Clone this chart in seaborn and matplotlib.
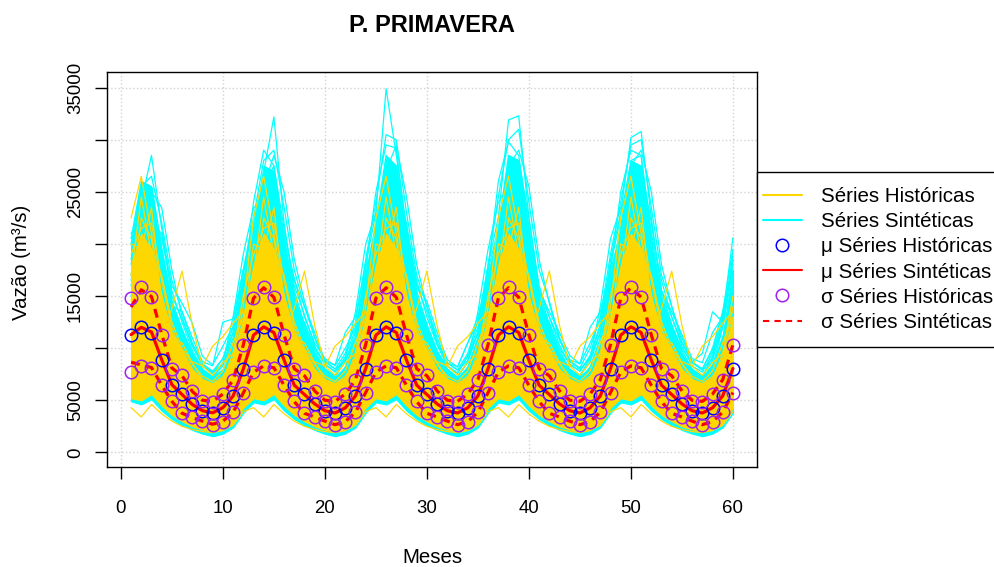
import numpy as np
import pandas as pd
import matplotlib
matplotlib.use("Agg")
import matplotlib.pyplot as plt
import seaborn as sns
from matplotlib.lines import Line2D
from matplotlib.patches import Rectangle

# ---------------- data (m3/s) ----------------
months = list(range(1, 61))

hist_mean = [11280, 12080, 11500, 8830, 6440, 5580, 4620, 3980, 3760, 4270, 5390, 8030,
             11280, 12080, 11500, 8830, 6440, 5580, 4620, 3980, 3760, 4270, 5390, 8030,
             11280, 12080, 11500, 8830, 6440, 5580, 4620, 3980, 3760, 4270, 5390, 8030,
             11280, 12080, 11500, 8830, 6440, 5580, 4620, 3980, 3760, 4270, 5390, 8030,
             11280, 12080, 11500, 8830, 6440, 5580, 4620, 3980, 3760, 4270, 5390, 8030]
hist_sd = [3580, 3750, 3370, 2400, 1550, 1820, 1240, 1000, 1120, 1320, 1560, 2300,
           3580, 3750, 3370, 2400, 1550, 1820, 1240, 1000, 1120, 1320, 1560, 2300,
           3580, 3750, 3370, 2400, 1550, 1820, 1240, 1000, 1120, 1320, 1560, 2300,
           3580, 3750, 3370, 2400, 1550, 1820, 1240, 1000, 1120, 1320, 1560, 2300,
           3580, 3750, 3370, 2400, 1550, 1820, 1240, 1000, 1120, 1320, 1560, 2300]
syn_mean = [11300, 12000, 11550, 8900, 6500, 5550, 4600, 4000, 3800, 4300, 5400, 8000,
            11250, 12050, 11500, 8850, 6450, 5550, 4650, 4000, 3780, 4280, 5420, 8050,
            11250, 12050, 11500, 8850, 6450, 5550, 4650, 4000, 3780, 4280, 5420, 8050,
            11250, 12050, 11500, 8850, 6450, 5550, 4650, 4000, 3780, 4280, 5420, 8050,
            11250, 12050, 11500, 8850, 6450, 5550, 4650, 4000, 3780, 4280, 5420, 8050]
syn_sd = [2650, 3600, 3400, 2450, 1600, 1800, 1250, 1000, 1100, 1300, 1550, 2300,
          3550, 3750, 3380, 2420, 1580, 1800, 1250, 1000, 1120, 1320, 1560, 2300,
          3550, 3750, 3380, 2420, 1580, 1800, 1250, 1000, 1120, 1320, 1560, 2300,
          3550, 3750, 3380, 2420, 1580, 1800, 1250, 1000, 1120, 1320, 1560, 2300,
          3550, 3750, 3380, 2420, 1580, 1800, 1250, 1000, 1120, 1320, 1560, 2300]

# dense envelopes of the synthetic (cyan) and historical (gold) bundles
cyan_hi = [20000, 26000, 25500, 19500, 14500, 11800, 9500, 8000, 7300, 8000, 10800, 16500,
           21500, 27500, 27000, 20500, 15000, 12000, 9500, 8000, 7300, 8200, 10800, 17000,
           22000, 28500, 27500, 21000, 15000, 12000, 9500, 8000, 7200, 8200, 11000, 17000,
           21500, 28500, 28000, 21000, 15000, 12000, 9500, 8000, 7300, 8200, 10800, 17000,
           22000, 28000, 27500, 20500, 15000, 12000, 9500, 8000, 7300, 8500, 11300, 17500]
cyan_lo = [4900, 4600, 5100, 4000, 3200, 2600, 2150, 1800, 1550, 1800, 2400, 3800,
           4800, 4600, 5100, 4000, 3200, 2600, 2150, 1800, 1550, 1800, 2400, 3800,
           4800, 4600, 5100, 4000, 3200, 2600, 2150, 1800, 1550, 1800, 2400, 3800,
           4800, 4600, 5100, 4000, 3200, 2600, 2150, 1800, 1550, 1800, 2400, 3800,
           4800, 4600, 5100, 4000, 3200, 2600, 2150, 1800, 1550, 1800, 2400, 3800]
gold_hi_year = [18000, 21000, 19500, 15000, 11500, 9800, 8000, 7000, 6600, 7200, 9200, 13000]
gold_lo_year = [5200, 5000, 5600, 4500, 3600, 3000, 2500, 2200, 2000, 2200, 2800, 4300]
gold_hi = gold_hi_year * 5
gold_lo = gold_lo_year * 5

# individual outlying synthetic series (one list per series)
syn_peak_a = [18000, 24000, 28500, 21500, 15500, 12500, 9800, 8000, 7200, 8300, 11000, 17000,
              22000, 26900, 32200, 22000, 15500, 12300, 9800, 8000, 7300, 8700, 11500, 18000,
              23000, 34900, 28500, 21500, 15500, 12300, 9800, 8000, 7200, 8700, 11500, 18000,
              22500, 31900, 32300, 22500, 15500, 12300, 9800, 8000, 7300, 8700, 11500, 18500,
              23000, 30200, 30800, 22500, 15500, 12300, 9800, 8000, 7300, 9200, 13000, 20600]
syn_peak_b = [20500, 26000, 25500, 19000, 13000, 11000, 8800, 7500, 6800, 7800, 10000, 15500,
              24000, 29000, 27500, 20000, 14000, 11500, 9200, 7600, 6900, 8200, 11000, 17500,
              25000, 29500, 29200, 21000, 14500, 11500, 9200, 7600, 6900, 8200, 11000, 17500,
              26000, 29800, 28500, 21500, 14500, 11500, 9200, 7600, 6900, 8200, 11000, 17500,
              25000, 29000, 28500, 20000, 14000, 11500, 9200, 7600, 6900, 8200, 12000, 19000]
syn_dry_a = [15000, 21000, 20000, 17000, 14000, 13500, 11000, 8700, 8300, 12500, 12800, 17500,
             19000, 24000, 23000, 19000, 16500, 14000, 11500, 8800, 8400, 11500, 13000, 18000,
             19000, 25000, 24000, 19500, 16000, 13500, 10500, 8600, 8200, 10500, 12500, 17000,
             19000, 25000, 25000, 20000, 15500, 13000, 10800, 8900, 8500, 12000, 13500, 17500,
             19500, 25000, 24500, 19500, 15500, 13000, 10500, 8700, 9500, 13500, 12500, 18500]
syn_dry_b = [16500, 22000, 22500, 18500, 12500, 10500, 9200, 8300, 7600, 9000, 11500, 16500,
             20000, 25500, 24500, 18000, 13500, 12500, 10000, 8400, 7800, 8800, 11000, 15500,
             20500, 26000, 25500, 18500, 14000, 12000, 9600, 8300, 7600, 9200, 11500, 16000,
             20000, 26500, 26000, 19000, 13500, 12500, 10000, 8500, 7800, 9200, 12000, 16500,
             21000, 26000, 25000, 18500, 14000, 12000, 10000, 8600, 8000, 9800, 13500, 17500]
syn_c1 = [20000, 25500, 26500, 22000, 16500, 13500, 10500, 8500, 7800, 9000, 12000, 17500,
          22500, 28000, 29000, 23500, 17500, 14000, 11000, 8700, 8000, 9500, 12500, 18500,
          24000, 30500, 30000, 23000, 17000, 14000, 11000, 8600, 7900, 9500, 12500, 18000,
          24500, 30000, 31000, 24000, 17500, 14500, 11000, 8800, 8100, 10000, 13000, 19000,
          24000, 29500, 30000, 23500, 17000, 14000, 11000, 8700, 8000, 10000, 13500, 19500]
syn_c2 = [17000, 23000, 23500, 20500, 16000, 14300, 12400, 9200, 8400, 10200, 12100, 17500,
          21500, 26000, 25000, 21000, 16700, 13000, 10500, 9000, 8300, 10000, 12000, 16500,
          20000, 27000, 26000, 22000, 16000, 14500, 11500, 8900, 8200, 10500, 13000, 17000,
          20500, 27500, 28000, 21500, 15600, 13500, 11500, 9300, 8500, 10500, 12800, 17500,
          21000, 27000, 27500, 22000, 15500, 13500, 11300, 9000, 8600, 11500, 13000, 18000]
syn_c3 = [21000, 22500, 20000, 16500, 13000, 11000, 8800, 7800, 7200, 8600, 13000, 19000,
          23500, 24000, 22500, 17500, 13500, 11500, 9200, 8000, 7400, 9000, 13500, 20000,
          23000, 25000, 23500, 18500, 14000, 11500, 9200, 7800, 7200, 8700, 13500, 19500,
          24000, 25500, 23000, 18000, 13500, 11000, 9100, 7900, 7400, 9000, 14000, 20500,
          23500, 25000, 23000, 17500, 13500, 11000, 9000, 7800, 7300, 8800, 12500, 18500]
syn_c4 = [16000, 22000, 25000, 23500, 17500, 13000, 10200, 8400, 7700, 8500, 10500, 15000,
          18500, 25500, 28500, 25000, 18500, 14500, 11000, 8800, 8000, 8800, 11000, 16000,
          19500, 27000, 29500, 24500, 18000, 14000, 10600, 8600, 7900, 8800, 11500, 16500,
          19000, 27500, 29000, 25500, 18500, 14300, 10800, 8700, 8000, 9000, 11500, 17000,
          19500, 27500, 29000, 25000, 18000, 14000, 10600, 8600, 7900, 9000, 12000, 17500]
syn_c6 = [18500, 23500, 22000, 21000, 15000, 12800, 10300, 8300, 7600, 8400, 11500, 16000,
          20500, 25500, 27500, 21500, 16000, 13200, 10200, 8500, 7700, 9200, 11800, 17000,
          22000, 28500, 27000, 21500, 16500, 13000, 10300, 8300, 7600, 9300, 12000, 17500,
          21500, 28500, 28000, 22500, 16000, 13000, 10300, 8400, 7800, 9300, 12300, 18000,
          22500, 28000, 28500, 21000, 16500, 13000, 10200, 8300, 7700, 9500, 12800, 18500]

# individual historical series (each historical year repeats in every 12-month block)
hist_wet = [22500, 26500, 21000, 15000, 10500, 8500, 7000, 6000, 5500, 6500, 9000, 14000] * 5
hist_wet2 = [19000, 21500, 22000, 16500, 12000, 9500, 7800, 6500, 6000, 7000, 9500, 15000] * 5
hist_spike = [11000, 14000, 13000, 11000, 13800, 17400, 12200, 8200, 10200, 11100, 12400, 13500] * 5
hist_dry = [4300, 3400, 4600, 3700, 3000, 2500, 2200, 2000, 1900, 2100, 2600, 3900] * 5
hist_g5 = [17000, 24500, 19000, 17000, 12500, 10000, 8500, 7300, 6800, 7800, 10500, 13000] * 5
hist_g6 = [20000, 19500, 23500, 14500, 11000, 10500, 8600, 7000, 6600, 7300, 8800, 12000] * 5
hist_g7 = [14500, 22500, 20500, 13500, 10000, 8600, 8700, 8300, 7400, 8600, 9500, 11500] * 5

x_ticks = [0, 10, 20, 30, 40, 50, 60]
y_ticks = [0, 5000, 10000, 15000, 20000, 25000, 30000, 35000]
y_tick_labels = ["0", "5000", "", "15000", "", "25000", "", "35000"]
legend_labels = ["Séries Históricas", "Séries Sintéticas", "μ Séries Históricas",
                 "μ Séries Sintéticas", "σ Séries Históricas", "σ Séries Sintéticas"]

# ---------------- figure ----------------
sns.set_theme(style="white")
plt.rcParams["font.family"] = ["Liberation Sans", "DejaVu Sans"]
for key in ("text.color", "axes.labelcolor", "xtick.color", "ytick.color"):
    plt.rcParams[key] = "black"

W, H = 994, 567
fig = plt.figure(figsize=(W / 100, H / 100), dpi=100)
ax = fig.add_axes([107 / W, 1 - 467 / H, 650 / W, 395 / H])

GOLD, CYAN = "#FFD700", "#00FFFF"

syn_series = {"syn_peak_a": syn_peak_a, "syn_peak_b": syn_peak_b, "syn_dry_a": syn_dry_a,
              "syn_dry_b": syn_dry_b, "syn_c1": syn_c1, "syn_c2": syn_c2, "syn_c3": syn_c3,
              "syn_c4": syn_c4, "syn_c6": syn_c6}
hist_series = {"hist_wet": hist_wet, "hist_wet2": hist_wet2, "hist_spike": hist_spike,
               "hist_dry": hist_dry, "hist_g5": hist_g5, "hist_g6": hist_g6, "hist_g7": hist_g7}
df = pd.DataFrame({"mes": months, **syn_series, **hist_series})

# synthetic bundle
ax.fill_between(months, cyan_lo, cyan_hi, color=CYAN, lw=0.8, edgecolor=CYAN, zorder=1)
for name in syn_series:
    sns.lineplot(data=df, x="mes", y=name, color=CYAN, lw=0.9, ax=ax, zorder=1.5)

# historical bundle
ax.fill_between(months, gold_lo, gold_hi, color=GOLD, lw=0.8, edgecolor=GOLD, zorder=2)
for name in hist_series:
    sns.lineplot(data=df, x="mes", y=name, color=GOLD, lw=0.9, ax=ax, zorder=2.5)

# synthetic statistics
syn_up = [m + s for m, s in zip(syn_mean, syn_sd)]
syn_dn = [m - s for m, s in zip(syn_mean, syn_sd)]
sns.lineplot(x=months, y=syn_mean, color="red", lw=2.3, ax=ax, zorder=3)
for arr in (syn_up, syn_dn):
    sns.lineplot(x=months, y=arr, color="red", lw=2.3, ax=ax, zorder=3)
    ax.lines[-1].set_dashes((2.8, 1.9))

# historical statistics (circles)
hist_up = [m + s for m, s in zip(hist_mean, hist_sd)]
hist_dn = [m - s for m, s in zip(hist_mean, hist_sd)]
ax.plot(months, hist_mean, ls="none", marker="o", ms=9, mfc="none", mec="blue", mew=1.1, zorder=4)
for arr in (hist_up, hist_dn):
    ax.plot(months, arr, ls="none", marker="o", ms=9, mfc="none", mec="#A020F0", mew=1.1, zorder=4)

# axes styling
ax.set_xlim(-1.36, 62.36)
ax.set_ylim(-1400, 36500)
ax.set_xticks(x_ticks)
ax.set_xticklabels([str(t) for t in x_ticks])
ax.set_yticks(y_ticks)
ax.set_yticklabels(y_tick_labels, rotation=90, va="center")
ax.set_xlabel("")
ax.set_ylabel("")
ax.tick_params(direction="out", length=8.5, width=1, colors="black", labelsize=13.4,
               left=True, bottom=True)
ax.tick_params(axis="x", pad=15.5)
ax.tick_params(axis="y", pad=8)
for sp in ax.spines.values():
    sp.set_color("black")
    sp.set_linewidth(1.0)
ax.grid(True, color="#D3D3D3", linestyle=":", linewidth=1)
ax.set_axisbelow(True)

# texts
fig.text(432 / W, 1 - 31.7 / H, "P. PRIMAVERA", ha="center", va="baseline",
         fontsize=17, fontweight="bold", color="black")
fig.text(432 / W, 1 - 563 / H, "Meses", ha="center", va="baseline", fontsize=14.7, color="black")
fig.text(22 / W, 1 - 262 / H, "Vazão (m³/s)", rotation=90, ha="center", va="center",
         fontsize=14.7, color="black")

# legend
fig.add_artist(Rectangle((757 / W, 1 - 347 / H), 260 / W, 175 / H, transform=fig.transFigure,
                         facecolor="white", edgecolor="black", lw=1.0, clip_on=False, zorder=5))
handles = [
    Line2D([], [], color=GOLD, lw=1.5),
    Line2D([], [], color=CYAN, lw=1.5),
    Line2D([], [], ls="none", marker="o", ms=9, mfc="none", mec="blue", mew=1.1),
    Line2D([], [], color="red", lw=1.5),
    Line2D([], [], ls="none", marker="o", ms=9, mfc="none", mec="#A020F0", mew=1.1),
    Line2D([], [], color="red", lw=1.5, dashes=(3, 2.5)),
]
leg = fig.legend(handles, legend_labels, loc="upper left",
                 bbox_to_anchor=(763 / W, 1 - 187 / H), frameon=False, fontsize=14.8,
                 handlelength=1.88, handletextpad=0.94, labelspacing=0.3,
                 borderpad=0, borderaxespad=0)
for t in leg.get_texts():
    t.set_color("black")
leg.set_zorder(6)

fig.savefig("out.png", dpi=100)
